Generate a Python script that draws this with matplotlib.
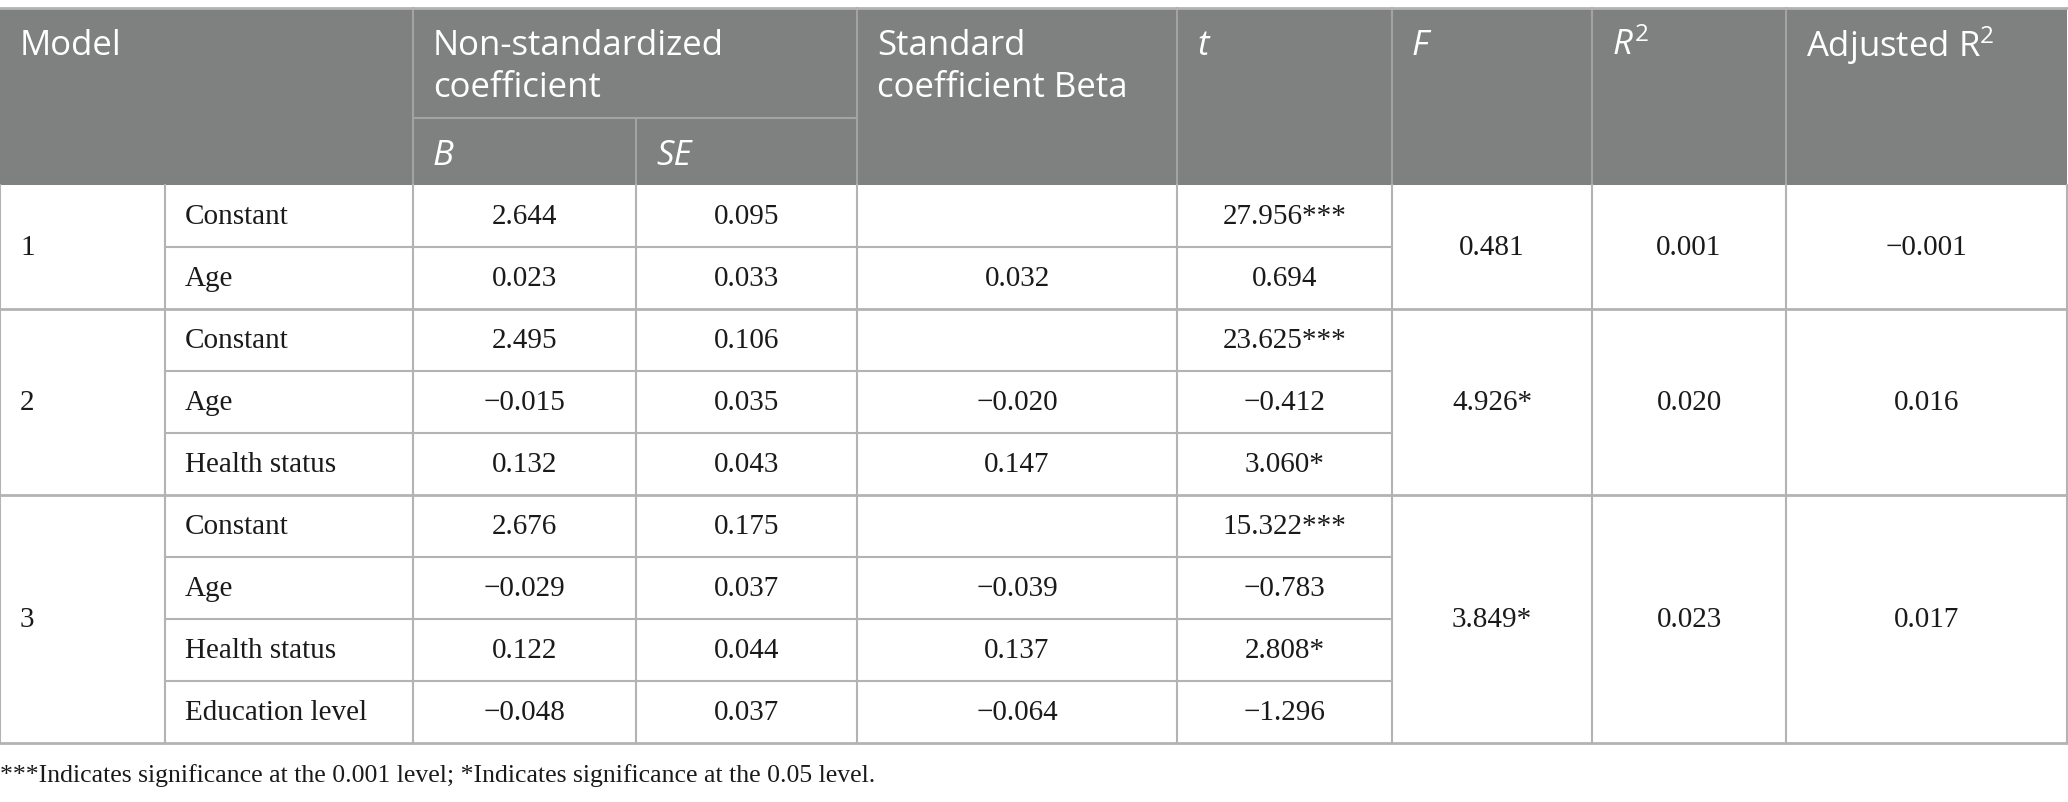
import matplotlib
matplotlib.use("Agg")
import matplotlib.pyplot as plt
from matplotlib.patches import Rectangle

# ---- data ----
models = ["1", "2", "3"]
model_vars = [["Constant", "Age"],
              ["Constant", "Age", "Health status"],
              ["Constant", "Age", "Health status", "Education level"]]
B_vals = [["2.644", "0.023"],
          ["2.495", "\u22120.015", "0.132"],
          ["2.676", "\u22120.029", "0.122", "\u22120.048"]]
SE_vals = [["0.095", "0.033"],
           ["0.106", "0.035", "0.043"],
           ["0.175", "0.037", "0.044", "0.037"]]
Beta_vals = [["", "0.032"],
             ["", "\u22120.020", "0.147"],
             ["", "\u22120.039", "0.137", "\u22120.064"]]
t_vals = [["27.956***", "0.694"],
          ["23.625***", "\u22120.412", "3.060*"],
          ["15.322***", "\u22120.783", "2.808*", "\u22121.296"]]
F_vals = ["0.481", "4.926*", "3.849*"]
R2_vals = ["0.001", "0.020", "0.023"]
AdjR2_vals = ["\u22120.001", "0.016", "0.017"]
footnote = "***Indicates significance at the 0.001 level; *Indicates significance at the 0.05 level."

# ---- style ----
plt.rcParams["mathtext.fontset"] = "custom"
plt.rcParams["mathtext.rm"] = "Open Sans"
plt.rcParams["mathtext.it"] = "Open Sans:italic"

W, H = 2068, 803
col_x = [0, 165, 413, 636, 857, 1177, 1392, 1592, 1786, 2067]
top, sub_y, head_bot = 9, 119, 186
row_h = 62.0
hdr_color = "#7f8180"
grid = "#b3b3b3"
hdr_line = "#a3a3a3"
serif = "Liberation Serif"
sans = "Open Sans"
fs_body = 21
fs_head = 25

fig = plt.figure(figsize=(W / 100, H / 100), dpi=100)
ax = fig.add_axes([0, 0, 1, 1])
ax.set_xlim(0, W)
ax.set_ylim(H, 0)
ax.axis("off")

# header background
ax.add_patch(Rectangle((col_x[0], top), col_x[-1] - col_x[0], head_bot - top,
                       facecolor=hdr_color, edgecolor="none", zorder=1))
ax.plot([col_x[0], col_x[-1]], [top, top], color=grid, lw=2, zorder=3)
for xi in [col_x[2], col_x[4], col_x[5], col_x[6], col_x[7], col_x[8]]:
    ax.plot([xi, xi], [top, head_bot], color=hdr_line, lw=1.5, zorder=2)
ax.plot([col_x[3], col_x[3]], [sub_y, head_bot], color=hdr_line, lw=1.5, zorder=2)
ax.plot([col_x[2], col_x[4]], [sub_y, sub_y], color=hdr_line, lw=1.5, zorder=2)

pad = 20
l1, l2 = 46, 88
hkw = dict(color="white", fontsize=fs_head, family=sans, va="center", ha="left", zorder=4)
ax.text(col_x[0] + pad, l1, "Model", **hkw)
ax.text(col_x[2] + pad, l1, "Non-standardized", **hkw)
ax.text(col_x[2] + pad, l2, "coefficient", **hkw)
ax.text(col_x[2] + pad, 156, "B", style="italic", **hkw)
ax.text(col_x[3] + pad, 156, "SE", style="italic", **hkw)
ax.text(col_x[4] + pad, l1, "Standard", **hkw)
ax.text(col_x[4] + pad, l2, "coefficient Beta", **hkw)
ax.text(col_x[5] + pad, l1, "t", style="italic", **hkw)
ax.text(col_x[6] + pad, l1, "F", style="italic", **hkw)
ax.text(col_x[7] + pad, l1, r"$\mathit{R}^{2}$", **hkw)
ax.text(col_x[8] + pad, l1, r"Adjusted R$^{2}$", **hkw)

# body
bkw = dict(color="#1a1a1a", fontsize=fs_body, family=serif, va="center", zorder=4)
y = head_bot
lw = 1.5
for m, name in enumerate(models):
    n = len(model_vars[m])
    y0, y1 = y, y + n * row_h
    ymid = (y0 + y1) / 2
    ax.text(col_x[0] + pad, ymid, name, ha="left", **bkw)
    ax.text((col_x[6] + col_x[7]) / 2, ymid, F_vals[m], ha="center", **bkw)
    ax.text((col_x[7] + col_x[8]) / 2, ymid, R2_vals[m], ha="center", **bkw)
    ax.text((col_x[8] + col_x[9]) / 2, ymid, AdjR2_vals[m], ha="center", **bkw)
    for r in range(n):
        yc = y0 + (r + 0.5) * row_h
        ax.text(col_x[1] + pad, yc, model_vars[m][r], ha="left", **bkw)
        for ci, vals in zip([2, 3, 4, 5], [B_vals, SE_vals, Beta_vals, t_vals]):
            ax.text((col_x[ci] + col_x[ci + 1]) / 2, yc, vals[m][r], ha="center", **bkw)
        if r > 0:
            yl = y0 + r * row_h
            ax.plot([col_x[1], col_x[6]], [yl, yl], color=grid, lw=lw, zorder=2)
    ax.plot([col_x[0], col_x[-1]], [y1, y1], color=grid, lw=2, zorder=2)
    y = y1

for xi in col_x:
    ax.plot([xi, xi], [head_bot, y], color=grid, lw=lw, zorder=2)

ax.text(0, 776, footnote, ha="left", va="center", color="#1a1a1a",
        fontsize=18.5, family=serif)

fig.savefig("out.png", dpi=100, facecolor="white")
